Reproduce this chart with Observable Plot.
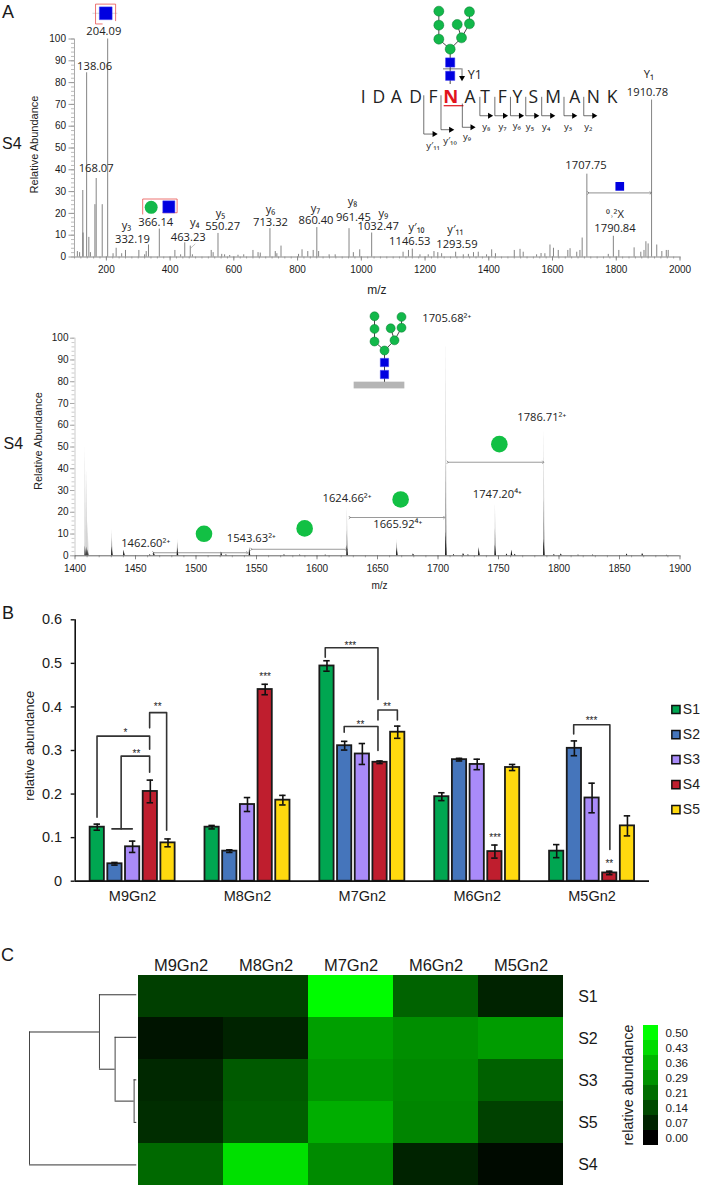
<!DOCTYPE html>
<html><head><meta charset="utf-8">
<script src="https://cdn.jsdelivr.net/npm/d3@7"></script>
<script src="https://cdn.jsdelivr.net/npm/@observablehq/plot@0.6"></script>
<style>
html,body{margin:0;padding:0;background:#fff}
#page{position:relative;width:702px;height:1188px;overflow:hidden;font-family:"Liberation Sans",sans-serif;color:#1a1a1a}
#page svg{position:absolute;background:transparent;overflow:visible;max-width:none;font-family:"Liberation Sans",sans-serif}
.lab{position:absolute;line-height:1;white-space:nowrap}
</style></head><body><div id="page"></div>
<script>
// ---------- Panel A, MS/MS spectrum ----------
const ms2Mz  = [109,116,126,127,138.06,145,150,164,168.07,187,204.09,221,230.7,248,260,302,320,325,332.19,366.14,415,433,446,463.23,470,529,535,550.27,562,571,587,613,631,660,676,683,713.32,730,735,748,803,814,832,849,860.4,866,899,918,961.45,975,995,1032.47,1131,1148,1160,1184,1210,1228,1240,1252,1296,1320,1336,1352,1367,1393,1409,1421,1480,1498,1508,1550,1564,1576,1592,1603,1618,1648,1655,1676,1686,1693,1707.75,1775,1790.84,1808,1856,1877,1887,1893,1900,1910.78,1927,1943,1957,1963];
const ms2Int = [2.5,2,30.5,11,84.5,9,2,24,36,24,100,1.5,4,1.5,3,3,1,2.5,5.5,12.8,3,1,6.5,5,1,3,2,10.8,1.2,1,.7,.8,1,3,2,1.8,13,2.5,1.5,5,1.2,3.3,2.5,3,13.5,2.5,1,1,13,2,3.3,11,2.2,3,3.6,1,1,2.5,2,1.5,2.2,1,1.2,2,2.2,1,3.3,1.5,3,3.5,2.2,1,1.6,1.5,5.5,4,3,3,3.8,2.2,3,8.7,38,1.2,9.5,3,4.2,2.2,3,7,6,72,5.5,2.5,3,3];
const ms2LabelText = ["204.09","138.06","168.07","y₃","332.19","366.14","y₄","463.23","y₅","550.27","y₆","713.32","y₇","860.40","y₈","961.45","y₉","1032.47","y′₁₀","1146.53","y′₁₁","1293.59","1707.75","⁰˒²X","1790.84","Y₁","1910.78"];
const ms2LabelMz   = [192,163,168,263,282,355,477,457,558,565,715,715,856,858,972,975,1069,1053,1173,1152,1295,1300,1705,1796,1796,1902,1898];
const ms2LabelInt  = [103.5,87.5,40.7,14.4,8.1,15.9,15.9,9,20.2,13.9,22,15.9,22.5,16.7,25.6,18.2,20.2,13.9,13.6,7.2,12.5,6,41.9,19.7,13,83.6,75.5];
const seqLetters = "IDADFNATFYSMANK".split("");
const seqMz = [1006,1055,1110,1170,1225,1281,1341,1388,1442,1490,1540,1602,1670,1728,1787];
const fragName = ["y₈","y₇","y₆","y₅","y₄","y₃","y₂","y′₁₁","y′₁₀","y₉"];
const fragStem = [1372,1419,1468,1516,1566,1636,1698,1196,1250,1317];
const fragTip  = [1403,1450,1500,1548,1598,1667,1730,1229,1281,1348];
const fragTop  = [73.3,73.3,73.3,73.3,73.3,73.3,73.3,74,74,70.2];
const fragLow  = [64.8,64.8,64.8,64.8,64.8,64.8,64.8,56.4,58.4,59.5];
const fragLabelMz  = [1392,1443,1488,1529,1580,1649,1712,1225,1278,1332];
const fragLabelInt = [59.8,59.8,60.1,59.8,59.8,59.8,59.8,50.8,53.4,55.2];

// ---------- Panel A, MS spectrum ----------
const faintMz  = [1408.5,1409.6,1410.7];
const faintInt = [50,40,16];
const ms1Mz  = [1430.6,1440.5,1462,1465.3,1484.8,1521,1525,1544.3,1573,1586,1607,1625,1666.1,1679.6,1706.6,1713,1721,1725,1733.9,1747.4,1756.8,1760.9,1763.6,1787.6,1796,1801.7,1816,1828,1856,1869,1889];
const ms1Int = [12,2.5,.5,1.5,7.5,1.8,.5,3.8,.5,.4,.4,22.5,7.5,.8,100,.6,1,.5,4,24,.8,2.5,.7,59,.6,.8,.4,.4,.8,1,.3];
const ms1LabelText = ["1462.60²⁺","1543.63²⁺","1624.66²⁺","1665.92⁴⁺","1705.68²⁺","1786.71²⁺","1747.20⁴⁺"];
const ms1LabelMz   = [1458.4,1545.7,1624.8,1666.7,1707.2,1785.7,1749];
const ms1LabelInt  = [5.8,7.8,26.2,14.4,109.2,63.7,28];
const lossMz  = [1506.6,1589.8,1669.1,1750.7];
const lossInt = [10.1,12.6,25.9,51.3];
const lossFrom = [1464.7,1545.7,1627,1708];
const lossTo   = [1542.4,1624.5,1705.2,1787];
const lossAt   = [1.4,3,17.6,43];

// ---------- Glycan residues (column, level) ----------
const mannoseCol = [0,-1,1,-1,-1,.62,1.7,1.7];
const mannoseLvl = [2,2.75,2.85,3.8,4.85,3.85,3.9,4.8];
const glcnacCol = [0,0];
const glcnacLvl = [0,1];
const bondFrom = [0,0,1,3,2,2,6];   // mannose index
const bondTo   = [1,2,3,4,5,6,7];

// ---------- Panel B and C values ----------
const samples = ["S1","S2","S3","S4","S5"];
const glycans = ["M9Gn2","M8Gn2","M7Gn2","M6Gn2","M5Gn2"];
const sampleColors = ["#00a651","#4575bb","#a98bf9","#bf1e2e","#ffd90f"];
const abundance = [
  [.124,.04,.079,.206,.088],
  [.124,.069,.176,.44,.186],
  [.494,.311,.292,.273,.342],
  [.194,.279,.268,.068,.261],
  [.069,.305,.191,.019,.127]];
const errors = [
  [.007,.003,.013,.026,.009],
  [.004,.003,.016,.012,.011],
  [.012,.010,.024,.003,.014],
  [.009,.003,.012,.015,.007],
  [.015,.017,.034,.004,.023]];
const brackets = [
  [[.19,.147],[.19,.333],[.648,.333],[.648,.303]],
  [[.40,.12],[.40,.287],[.648,.287],[.648,.25]],
  [[.648,.352],[.648,.387],[.796,.387],[.796,.117]],
  [[2.177,.514],[2.177,.536],[2.636,.536],[2.636,.417]],
  [[2.342,.342],[2.342,.355],[2.636,.355],[2.636,.30]],
  [[2.636,.37],[2.636,.393],[2.805,.393],[2.805,.37]],
  [[4.34,.338],[4.34,.359],[4.655,.359],[4.655,.073]],
  [[.32,.12],[.497,.12]]];
const starText = ["*","**","**","***","***","**","**","***","***","**"];
const starX    = [.437,.533,.718,1.654,2.396,2.483,2.715,3.656,4.495,4.65];
const starY    = [.34,.293,.40,.47,.54,.36,.40,.10,.368,.04];
const heatOrder = ["S1","S2","S3","S5","S4"];
const legendTicks = ["0.50","0.43","0.36","0.29","0.21","0.14","0.07","0.00"];
// Dendrogram: merge height, child rows
const leafRows = [0,1,2,3,4];
const mergeH = [.025,.202,.348,1];
const mergeLo = [2,1,0,.875];
const mergeHi = [3,2.5,1.75,4];
const mergeY  = [2.5,1.75,.875,null];

const page = document.getElementById("page");
const place = (svg, top, left = 0) => { svg.style.top = top + "px"; svg.style.left = left + "px"; page.appendChild(svg); };
const ink = "#222";
const peakFont = "Open Sans";
const minorX = (ticks,o={}) => Plot.axisX({ticks,label:null,fill:"none",...o});
const minorY = (ticks,o={}) => Plot.axisY({ticks,label:null,fill:"none",...o});

// ---- glycan drawing ----
function glycan(top, left, w, h, rc, rs) {
  const man = mannoseCol.map((c,i) => ({c, l: mannoseLvl[i]}));
  const gn = glcnacCol.map((c,i) => ({c, l: glcnacLvl[i]}));
  const bonds = bondFrom.map((f,i) => ({x1: man[f].c, y1: man[f].l, x2: man[bondTo[i]].c, y2: man[bondTo[i]].l}));
  place(Plot.plot({width:w,height:h,margin:0,
    x:{domain:[-2,3],axis:null}, y:{domain:[-2,5.5],axis:null},
    marks:[
      Plot.ruleX([0],{y1:-.65,y2:2,stroke:"#444",strokeWidth:1}),
      Plot.link(bonds,{x1:"x1",y1:"y1",x2:"x2",y2:"y2",stroke:"#444",strokeWidth:1}),
      Plot.dot(man,{x:"c",y:"l",r:rc,fill:"#12b84a",stroke:"#0b7a32",strokeWidth:.5}),
      Plot.dot(gn,{x:"c",y:"l",r:rs,symbol:"square",fill:"#0000e0",stroke:"#3a3af0",strokeWidth:.5})
    ]}), top, left);
}

// ---- A: MS/MS ----
const ms2 = ms2Mz.map((m,i)=>({m,v:ms2Int[i]}));
const frags = fragName.map((n,i)=>({n,s:fragStem[i],t:fragTip[i],a:fragTop[i],b:fragLow[i],lx:fragLabelMz[i],ly:fragLabelInt[i]}));
const fragPath = frags.flatMap((f,i)=>[{id:i,x:f.s,y:f.a},{id:i,x:f.s,y:f.b},{id:i,x:f.t,y:f.b}]);
const redBoxes = [
  [[187,106.9],[166,106.9],[166,116],[229,116],[229,108.4]],
  [[314,19.7],[314,26.6],[422,26.6],[422,20.3],[377,20.3]]];
const redPath = redBoxes.flatMap((b,id)=>b.map(([x,y])=>({id,x,y})));
const annotText = (d,o)=>Plot.text(d,{fontFamily:peakFont,fill:ink,...o});
place(Plot.plot({width:702,height:300,marginTop:38.5,marginBottom:43.5,marginLeft:74,marginRight:22.5,
  x:{domain:[100,2000],axis:null}, y:{domain:[0,100],axis:null},
  marks:[
    minorX(d3.range(100,2001,20),{tickSize:2,stroke:"#aaa"}),
    Plot.axisX({ticks:d3.range(200,2001,200),label:null,tickSize:4,tickPadding:5,stroke:"#888",fontSize:10,tickFormat:d=>String(d)}),
    minorY(d3.range(0,101,2),{tickSize:3,stroke:"#bbb"}),
    Plot.axisY({ticks:d3.range(0,101,10),label:null,tickSize:5.5,tickPadding:3,stroke:"#999",fontSize:10}),
    Plot.ruleX([100],{stroke:"#aaa"}),
    Plot.ruleY([0],{stroke:"#888"}),
    Plot.ruleX(ms2,{x:"m",y1:0,y2:"v",stroke:"#666",strokeWidth:.8}),
    annotText(ms2LabelText.map((t,i)=>({t,x:ms2LabelMz[i],y:ms2LabelInt[i]})),{x:"x",y:"y",text:"t",fontSize:11.2}),
    Plot.text(seqLetters.map((t,i)=>({t,x:seqMz[i]})).filter((d,i)=>i!==5),{x:"x",y:()=>73.3,text:"t",fontFamily:peakFont,fontSize:17.5,fill:"#222"}),
    Plot.text([seqLetters[5]],{x:()=>seqMz[5],y:()=>73.3,text:d=>d,fontFamily:peakFont,fontSize:18.5,fontWeight:"bold",fill:"#e1141c"}),
    Plot.ruleY([69.4],{x1:1260,x2:1322,stroke:"#e1141c",strokeWidth:1.2}),
    Plot.line(fragPath,{x:"x",y:"y",z:"id",stroke:"#333",strokeWidth:.7}),
    Plot.dot(frags,{x:"t",y:"b",symbol:"triangle",rotate:90,r:2.2,fill:"#000"}),
    annotText(frags,{x:"lx",y:"ly",text:"n",fontSize:9.5}),
    // Y1 cut mark
    Plot.ruleY([86.3],{x1:1258,x2:1316,stroke:"#333",strokeWidth:.7}),
    Plot.ruleX([1316],{y1:86.3,y2:81.7,stroke:"#333",strokeWidth:.7}),
    Plot.dot([{x:1316,y:82.2}],{x:"x",y:"y",symbol:"triangle",rotate:180,r:2.2,fill:"#000"}),
    annotText(["Y1"],{x:()=>1356,y:()=>83.7,text:d=>d,fontSize:12.5}),
    // mass-difference arrow
    Plot.link([{a:1712,b:1908}],{x1:"a",x2:"b",y1:()=>29.4,y2:()=>29.4,stroke:"#444",strokeWidth:.6,markerStart:"arrow",markerEnd:"arrow"}),
    Plot.dot([{x:1811,y:32.4}],{x:"x",y:"y",symbol:"square",r:4.9,fill:"#0000e0"}),
    // boxed oxonium ions
    Plot.ruleY([111.8],{x1:158,x2:236,stroke:"#bbb",strokeWidth:.6}),
    Plot.line(redPath,{x:"x",y:"y",z:"id",stroke:"#e8504f",strokeWidth:.8}),
    Plot.dot([{x:198,y:111.8}],{x:"x",y:"y",symbol:"square",r:7.2,fill:"#0000e0",stroke:"#3a3af0",strokeWidth:.5}),
    Plot.dot([{x:396,y:23}],{x:"x",y:"y",symbol:"square",r:6.8,fill:"#0000e0",stroke:"#3a3af0",strokeWidth:.5}),
    Plot.dot([{x:340.6,y:22.8}],{x:"x",y:"y",r:6.5,fill:"#12b84a"}),
    Plot.link([{a:464,b:4,c:479,d:6}],{x1:"a",y1:"b",x2:"c",y2:"d",stroke:"#999",strokeWidth:.6}),
    Plot.text(["Relative Abundance"],{x:()=>-27,y:()=>51.6,text:d=>d,rotate:-90,fontSize:11,fill:ink}),
    Plot.text(["m/z"],{x:()=>1049,y:()=>-15.3,text:d=>d,fontSize:12,fill:ink})
  ]}), 0);
glycan(2,427.3,56.7,100,5,5.2);

// ---- A: MS ----
const ms1 = ms1Mz.map((m,i)=>({m,v:ms1Int[i],id:i}));
const faint = faintMz.map((m,i)=>({m,v:faintInt[i],id:i}));
const tri = (src,f,wl,wr)=>src.flatMap(p=>{const h=f(p.v);return [{id:p.id,x:p.m-wl,y:0},{id:p.id,x:p.m,y:h},{id:p.id,x:p.m+wr,y:0}];});
const triMark = (src,f,wl,wr,fill)=>Plot.area(tri(src,f,wl,wr),{x1:"x",y1:0,y2:"y",z:"id",fill});
place(Plot.plot({width:702,height:290,marginTop:37.7,marginBottom:34.7,marginLeft:74.5,marginRight:22.5,
  x:{domain:[1400,1900],axis:null}, y:{domain:[0,100],axis:null},
  marks:[
    minorX(d3.range(1400,1901,10),{tickSize:2,stroke:"#aaa"}),
    Plot.axisX({ticks:d3.range(1400,1901,50),label:null,tickSize:4,tickPadding:5,stroke:"#888",fontSize:10,tickFormat:d=>String(d)}),
    minorY(d3.range(0,101,2),{tickSize:3,stroke:"#ccc"}),
    Plot.axisY({ticks:d3.range(0,101,10),label:null,tickSize:4.5,tickPadding:2,stroke:"#aaa",fontSize:10}),
    Plot.ruleX([1400],{stroke:"#ccc"}),
    triMark(faint,v=>v,.4,1,"#d4d4d4"),
    triMark(faint,v=>.05*v+2,.4,1,"#444"),
    triMark(ms1,v=>v,.3,1,"#cfcfcf"),
    triMark(ms1,v=>Math.min(v,.4*v+3),.3,.9,"#999"),
    triMark(ms1,v=>Math.min(v,.08*v+3),.3,.9,"#111"),
    Plot.ruleY([0],{stroke:"#666"}),
    annotText(ms1LabelText.map((t,i)=>({t,x:ms1LabelMz[i],y:ms1LabelInt[i]})),{x:"x",y:"y",text:"t",fontSize:11.2}),
    Plot.dot(lossMz.map((x,i)=>({x,y:lossInt[i]})),{x:"x",y:"y",r:8.3,fill:"#12c044"}),
    Plot.link(lossFrom.map((a,i)=>({a,b:lossTo[i],y:lossAt[i]})),{x1:"a",x2:"b",y1:"y",y2:"y",stroke:"#555",strokeWidth:.6,markerStart:"arrow",markerEnd:"arrow"}),
    Plot.rect([{a:1630.7,b:1672.6}],{x1:"a",x2:"b",y1:()=>76.7,y2:()=>79.8,fill:"#b5b5b5"}),
    Plot.text(["Relative Abundance"],{x:()=>1370,y:()=>52.7,text:d=>d,rotate:-90,fontSize:11,fill:ink}),
    Plot.text(["m/z"],{x:()=>1651.6,y:()=>-13.6,text:d=>d,fontSize:10,fill:ink})
  ]}), 300);
glycan(308,364,50,90,4.5,4.7);

// ---- B: bars ----
const slot = (g,s)=> g + .5 + (s-2)*.154;
const bars = abundance.flatMap((r,g)=>r.map((v,s)=>({g,s,v,e:errors[g][s],c:slot(g,s),col:sampleColors[s]})));
const bracketPts = brackets.flatMap((b,id)=>b.map(([x,y])=>({id,x,y})));
const legendRows = samples.map((t,i)=>({t,col:sampleColors[i],y:.394 - i*.0574}));
place(Plot.plot({width:702,height:310,marginTop:19.3,marginBottom:29.3,marginLeft:74.7,marginRight:53,
  x:{domain:[0,5],axis:null}, y:{domain:[0,.6],axis:null},
  marks:[
    Plot.axisY({ticks:d3.range(0,.61,.1),label:null,tickSize:4,tickPadding:9,fontSize:14.5,strokeWidth:1.4,stroke:"#111",tickFormat:d=>d<.01?"0":d.toFixed(1)}),
    Plot.axisX({ticks:[.5,1.5,2.5,3.5,4.5],label:null,tickSize:0,tickPadding:10,fontSize:14.5,tickFormat:d=>glycans[Math.floor(d)]}),
    Plot.rect(bars,{x1:d=>d.c-.062,x2:d=>d.c+.062,y1:0,y2:"v",fill:"col",stroke:"#1a1a1a",strokeWidth:1.8}),
    Plot.ruleX(bars,{x:"c",y1:d=>d.v-d.e,y2:d=>d.v+d.e,stroke:"#111",strokeWidth:1.6}),
    Plot.ruleY(bars,{y:d=>d.v+d.e,x1:d=>d.c-.028,x2:d=>d.c+.028,stroke:"#111",strokeWidth:1.6}),
    Plot.ruleY(bars,{y:d=>d.v-d.e,x1:d=>d.c-.028,x2:d=>d.c+.028,stroke:"#111",strokeWidth:1.6}),
    Plot.ruleY([0],{x1:0,x2:5,stroke:"#111",strokeWidth:1.8}),
    Plot.ruleX([0],{y1:0,y2:.6,stroke:"#111",strokeWidth:1.6}),
    Plot.line(bracketPts,{x:"x",y:"y",z:"id",stroke:"#333",strokeWidth:1.6}),
    Plot.text(starText.map((t,i)=>({t,x:starX[i],y:starY[i]})),{x:"x",y:"y",text:"t",fontSize:10,fill:"#222"}),
    Plot.text(["relative abundance"],{x:()=>-.397,y:()=>.311,text:d=>d,rotate:-90,fontSize:13,fill:ink}),
    Plot.dot(legendRows,{x:()=>5.23,y:"y",symbol:"square",r:4.6,fill:"col",stroke:"#111",strokeWidth:1.5}),
    Plot.text(legendRows,{x:()=>5.29,y:"y",text:"t",textAnchor:"start",fontSize:14,fill:ink})
  ]}), 600);

// ---- C: dendrogram ----
const dendroV = mergeH.map((h,i)=>({h,a:mergeLo[i],b:mergeHi[i]}));
const leafH = [.348,.202,.025,.025,1];
const dendroH = [
  ...leafRows.map((r,i)=>({y:r,a:leafH[i],b:0})),
  {y:mergeY[0],a:mergeH[1],b:mergeH[0]},
  {y:mergeY[1],a:mergeH[2],b:mergeH[1]},
  {y:mergeY[2],a:mergeH[3],b:mergeH[2]}];
place(Plot.plot({width:107.3,height:212.7,margin:0,
  x:{domain:[1,0],axis:null}, y:{domain:[4.5,-.5],axis:null},
  marks:[
    Plot.ruleX(dendroV,{x:"h",y1:"a",y2:"b",stroke:"#444",strokeWidth:1}),
    Plot.ruleY(dendroH,{y:"y",x1:"a",x2:"b",stroke:"#333",strokeWidth:1})
  ]}), 973.3, 29);

// ---- C: heatmap ----
const heat = heatOrder.flatMap(s=>glycans.map((g,gi)=>({s,g,v:abundance[gi][samples.indexOf(s)]})));
const heatColor = {type:"linear",domain:[0,.5],range:["#000000","#00ff00"],interpolate:"rgb"};
place(Plot.plot({width:702,height:258,marginTop:43.3,marginBottom:2,marginLeft:136.3,marginRight:137.3,
  x:{domain:glycans,padding:0,axis:null}, y:{domain:heatOrder,padding:0,axis:null},
  color:heatColor,
  marks:[
    Plot.cell(heat,{x:"g",y:"s",fill:"v"}),
    Plot.axisX({anchor:"top",label:null,tickSize:0,tickPadding:3,fontSize:16.5}),
    Plot.axisY({anchor:"right",label:null,tickSize:0,tickPadding:13,fontSize:16})
  ]}), 930);

// ---- C: colour key ----
place(Plot.plot({width:60,height:122.7,marginTop:0,marginBottom:0,marginLeft:0,marginRight:45,
  x:{domain:[0,1],axis:null}, y:{domain:legendTicks,padding:0,axis:null},
  color:{type:"linear",domain:[0,7],range:["#000000","#00ff00"],interpolate:"rgb"},
  marks:[
    Plot.rect(legendTicks,{x1:()=>0,x2:()=>1,y:d=>d,fill:(d,i)=>7-i}),
    Plot.axisY({anchor:"right",label:null,tickSize:0,tickPadding:7,fontSize:11.6})
  ]}), 1024, 643);

// ---- stray labels ----
const stray = [["A",2,3,18],["S4",2,136,16],["S4",3.5,436,16],["B",2,604,18],["C",1,946,18]];
stray.forEach(([t,x,y,s])=>{const e=document.createElement("div");e.className="lab";e.textContent=t;e.style.cssText+=`left:${x}px;top:${y}px;font-size:${s}px`;page.appendChild(e);});
const rot = document.createElement("div");rot.className="lab";rot.textContent="relative abundance";
rot.style.cssText+="left:628px;top:1085px;font-size:14.3px;transform:translate(-50%,-50%) rotate(-90deg)";page.appendChild(rot);
</script></body></html>
